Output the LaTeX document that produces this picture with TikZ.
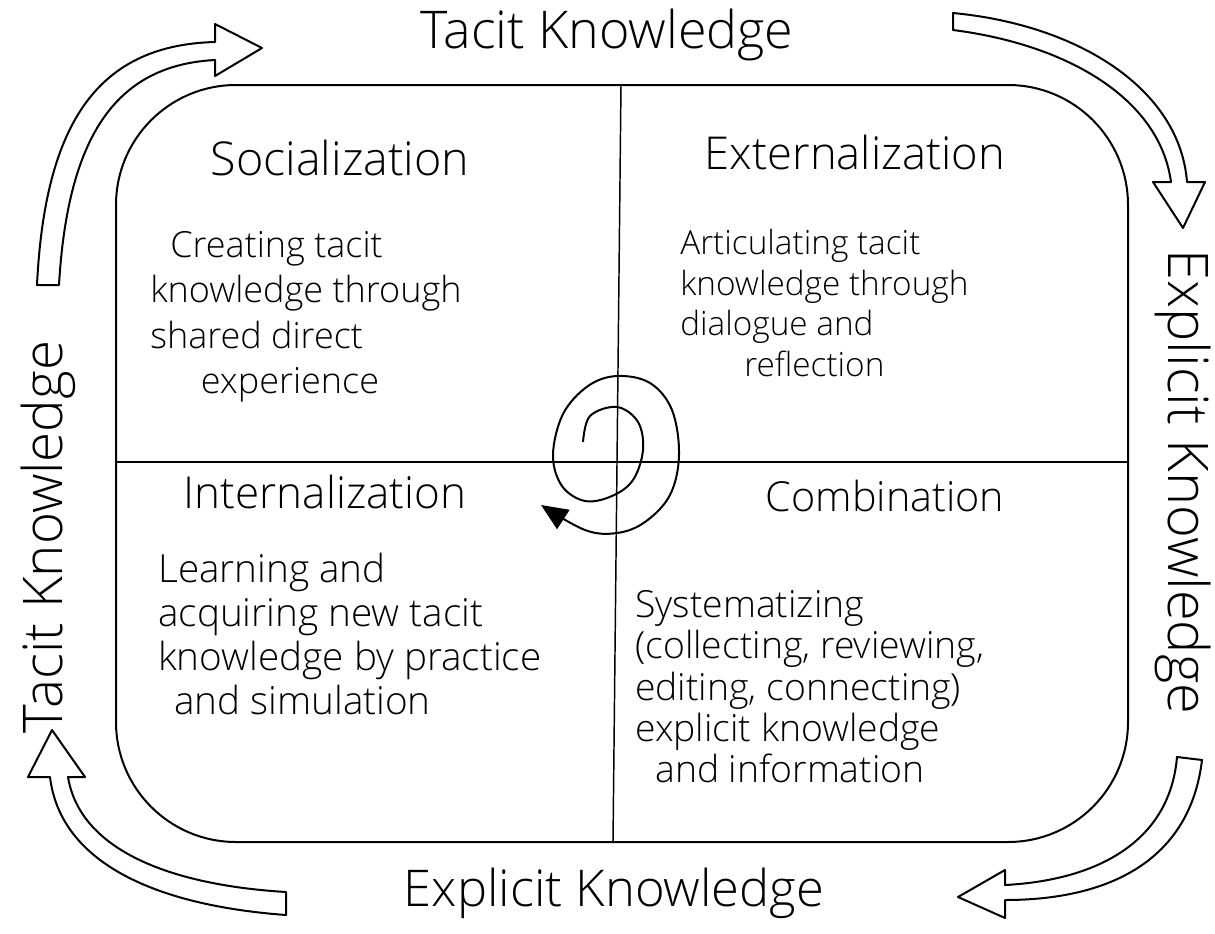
\documentclass[tikz,border=0pt]{standalone}
\usepackage{fontspec}
\setmainfont{Open Sans}[UprightFont={* Light}]
\usetikzlibrary{arrows.meta}
\begin{document}
\begin{tikzpicture}[x=0.75pt,y=-0.75pt,
  frame/.style={line width=1.5pt, rounded corners=90pt},
  divider/.style={line width=1.1pt},
  blockarrow/.style={line width=1.5pt, line join=round},
  heading/.style={inner sep=0},
  axislabel/.style={inner sep=0},
  body/.style={align=left, anchor=north west, inner sep=0},
  swirl/.style={line width=1.5pt, -{Triangle[length=20pt,width=17pt]}}
]
\useasboundingbox (0,0) rectangle (1215,933);

% the four-quadrant frame
\draw[frame] (116,85) rectangle (1128,842);
\coordinate (qt) at (621,85);
\coordinate (qb) at (613,842);
\coordinate (ql) at (116,462);
\coordinate (qr) at (1128,462);
\draw[divider] (qt) -- (qb);
\draw[divider] (ql) -- (qr);

% hollow block arrows circling the frame
\draw[blockarrow] (37,285) -- (59,285)
  .. controls (68,130) and (120,65) .. (215,60)
  -- (215,76) -- (262,48) -- (215,24) -- (215,42)
  .. controls (100,45) and (45,120) .. cycle;
\draw[blockarrow] (953,13)
  .. controls (1080,25) and (1180,90) .. (1187,182)
  -- (1205,182) -- (1183,228) -- (1153,182) -- (1171,182)
  .. controls (1160,100) and (1070,45) .. (953,30) -- cycle;
\draw[blockarrow] (1177,757) -- (1202,760)
  .. controls (1190,860) and (1110,900) .. (1005,900)
  -- (1005,918) -- (958,897) -- (1005,870) -- (1005,885)
  .. controls (1100,880) and (1170,840) .. cycle;
\draw[blockarrow] (286,892) -- (286,915)
  .. controls (150,905) and (60,860) .. (50,777)
  -- (28,777) -- (52,730) -- (85,777) -- (68,777)
  .. controls (80,850) and (170,885) .. cycle;

% axis labels
\node[axislabel, font=\fontsize{39}{44}\selectfont] (ttop) at (607,35) {Tacit Knowledge};
\node[axislabel, font=\fontsize{38}{44}\selectfont] (ebot) at (614,893) {Explicit Knowledge};
\node[axislabel, font=\fontsize{41}{44}\selectfont, rotate=90] (tleft) at (48,537) {Tacit Knowledge};
\node[axislabel, font=\fontsize{42}{44}\selectfont, rotate=-90] (eright) at (1183,482) {Explicit Knowledge};

% quadrant headings
\node[heading, font=\fontsize{35}{40}\selectfont] (soc) at (340,158) {Socialization};
\node[heading, font=\fontsize{34}{40}\selectfont] (ext) at (855,152) {Externalization};
\node[heading, font=\fontsize{33}{40}\selectfont] (int) at (325,492) {Internalization};
\node[heading, font=\fontsize{31}{40}\selectfont] (com) at (885,496) {Combination};

% quadrant descriptions
\node[body, font=\fontsize{27}{34}\selectfont] (socb) at (150,231)
  {\hspace*{15pt}Creating tacit\\knowledge through\\shared direct\\\hspace*{38pt}experience};
\node[body, font=\fontsize{25}{30.5}\selectfont] (extb) at (680,229)
  {Articulating tacit\\knowledge through\\dialogue and\\\hspace*{48pt}reflection};
\node[body, font=\fontsize{29}{33}\selectfont] (intb) at (158,553)
  {Learning and\\acquiring new tacit\\knowledge by practice\\\hspace*{12pt}and simulation};
\node[body, font=\fontsize{28}{31}\selectfont] (comb) at (635,590)
  {Systematizing\\(collecting, reviewing,\\editing, connecting)\\explicit knowledge\\\hspace*{15pt}and information};

% the knowledge spiral at the centre
\draw[swirl] plot[smooth, tension=0.6] coordinates {
  (583,442) (590,416) (617,407) (638,422) (643,450) (633,480) (612,496)
  (585,501) (562,486) (553,455) (563,414) (588,386) (617,376) (650,383)
  (672,410) (679,455) (670,495) (645,522) (617,533) (585,530) (541,505)};
\end{tikzpicture}
\end{document}
